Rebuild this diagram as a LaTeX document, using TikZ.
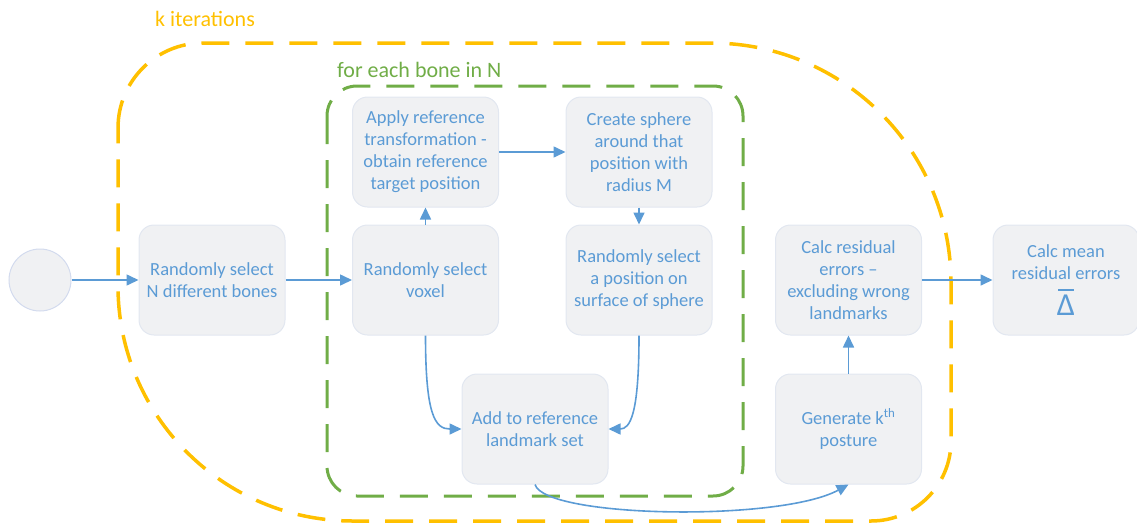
\documentclass[tikz,border=0pt]{standalone}
\usepackage{fontspec}
\setmainfont{Carlito}
\usetikzlibrary{arrows.meta}
\definecolor{tblue}{HTML}{5B9BD5}
\definecolor{korange}{HTML}{FFC000}
\definecolor{bgreen}{HTML}{70AD47}
\definecolor{boxfill}{HTML}{F0F1F3}
\definecolor{boxline}{HTML}{E2E7F0}
\definecolor{circline}{HTML}{D3DBEE}
\newcommand{\bigdelta}{{\fontsize{32}{32}\selectfont
  \makebox[0pt][l]{\hspace{1.5pt}\raisebox{24pt}{\rule{16pt}{2.2pt}}}Δ}}
\tikzset{
  proc/.style={draw=boxline, line width=1pt, fill=boxfill, rounded corners=15pt,
    minimum width=146pt, minimum height=110pt, inner sep=0pt, align=center,
    text=tblue, font=\fontsize{18.5}{22}\selectfont},
  startc/.style={circle, draw=circline, line width=1pt, fill=boxfill, minimum size=62pt, inner sep=0pt},
  flow/.style={draw=tblue, line width=1.6pt, -{Triangle[length=12pt,width=11pt]}},
  kloop/.style={draw=korange, line width=3.5pt, dash pattern=on 28pt off 16pt},
  bloop/.style={draw=bgreen, line width=3pt, dash pattern=on 28pt off 16pt},
  looplabel/.style={font=\fontsize{22}{24}\selectfont, anchor=west, inner sep=0pt},
}
\begin{document}
\begin{tikzpicture}[x=1pt,y=-1pt]
\useasboundingbox (0,0) rectangle (1137,525);
% loops
\draw[kloop] (118,128) arc[start angle=180,end angle=270,radius=85]
  -- (711,43) arc[start angle=270,end angle=360,radius=240]
  -- (951,441) arc[start angle=0,end angle=90,radius=80]
  -- (353,521) arc[start angle=90,end angle=180,radius=235]
  -- cycle;
\draw[bloop, rounded corners=30pt] (327,86) rectangle (743,496);
\node[looplabel, text=korange] (klab) at (155,19) {k iterations};
\node[looplabel, text=bgreen] (blab) at (337,70) {for each bone in N};
% nodes
\node[startc] (s) at (40,280) {};
\node[proc] (nb) at (212,280) {Randomly select\\N different bones};
\node[proc] (vx) at (425.5,280) {Randomly select\\voxel};
\node[proc] (ap) at (425.5,152) {Apply reference\\transformation -\\obtain reference\\target position};
\node[proc] (cs) at (639,152) {Create sphere\\around that\\position with\\radius M};
\node[proc] (rp) at (639,280) {Randomly select\\a position on\\surface of sphere};
\node[proc] (ad) at (535,429) {Add to reference\\landmark set};
\node[proc] (gk) at (848.5,429) {Generate k\textsuperscript{th}\\posture};
\node[proc] (cr) at (848.5,280) {Calc residual\\errors –\\excluding wrong\\landmarks};
\node[proc] (cm) at (1066,280) {Calc mean\\residual errors\\[8pt]\bigdelta};
% connectors
\draw[flow] (s) -- (nb);
\draw[flow] (nb) -- (vx);
\draw[flow] (vx) -- (ap);
\draw[flow] (ap) -- (cs);
\draw[flow] (cs) -- (rp);
\draw[flow] (vx.south) .. controls (425.5,415) and (435,429) .. (ad.west);
\draw[flow] (rp.south) .. controls (639,415) and (630,429) .. (ad.east);
\draw[flow] (ad.south) .. controls (545,518) and (780,522) .. (gk.south);
\draw[flow] (gk) -- (cr);
\draw[flow] (cr) -- (cm);
\end{tikzpicture}
\end{document}
